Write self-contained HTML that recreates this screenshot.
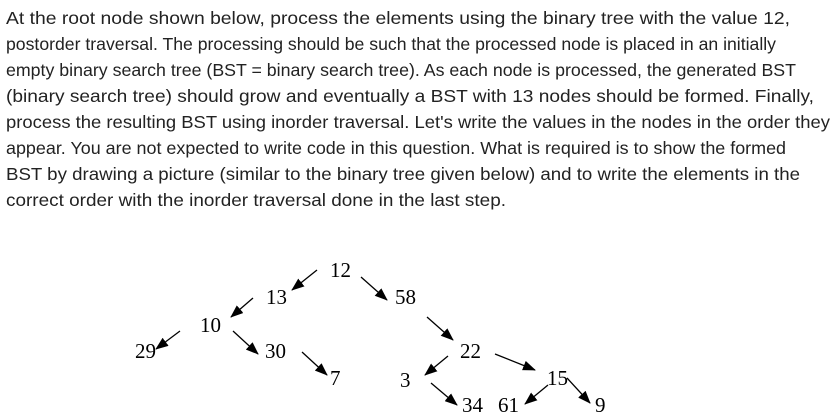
<!DOCTYPE html>
<html><head><meta charset="utf-8"><style>
html,body{margin:0;padding:0;background:#fff;}
svg{display:block;}
.p{font-family:"Liberation Sans",sans-serif;font-size:17.5px;fill:#222;}
.n{font-family:"Liberation Serif",serif;font-size:21px;fill:#000;}
</style></head><body>
<svg width="838" height="417" viewBox="0 0 838 417" xmlns="http://www.w3.org/2000/svg">
<defs><marker id="a" markerWidth="13" markerHeight="10" refX="12" refY="5" orient="auto" markerUnits="userSpaceOnUse"><path d="M0,0 L13,5 L0,10 z" fill="#000"/></marker></defs>
<text class="p" x="6" y="24" textLength="784" lengthAdjust="spacingAndGlyphs">At the root node shown below, process the elements using the binary tree with the value 12,</text>
<text class="p" x="6" y="50" textLength="770" lengthAdjust="spacingAndGlyphs">postorder traversal. The processing should be such that the processed node is placed in an initially</text>
<text class="p" x="6" y="76" textLength="790" lengthAdjust="spacingAndGlyphs">empty binary search tree (BST = binary search tree). As each node is processed, the generated BST</text>
<text class="p" x="6" y="102" textLength="808" lengthAdjust="spacingAndGlyphs">(binary search tree) should grow and eventually a BST with 13 nodes should be formed. Finally,</text>
<text class="p" x="6" y="128" textLength="824" lengthAdjust="spacingAndGlyphs">process the resulting BST using inorder traversal. Let's write the values in the nodes in the order they</text>
<text class="p" x="6" y="154" textLength="780" lengthAdjust="spacingAndGlyphs">appear. You are not expected to write code in this question. What is required is to show the formed</text>
<text class="p" x="6" y="180" textLength="794" lengthAdjust="spacingAndGlyphs">BST by drawing a picture (similar to the binary tree given below) and to write the elements in the</text>
<text class="p" x="6" y="206" textLength="500" lengthAdjust="spacingAndGlyphs">correct order with the inorder traversal done in the last step.</text>
<g stroke="#000" stroke-width="1.3" marker-end="url(#a)">
<line x1="317" y1="270" x2="292" y2="290"/>
<line x1="361" y1="277" x2="387" y2="300"/>
<line x1="253" y1="298" x2="231" y2="317"/>
<line x1="180" y1="331" x2="156" y2="349"/>
<line x1="233" y1="331" x2="258" y2="354"/>
<line x1="302" y1="352" x2="327" y2="375"/>
<line x1="427" y1="317" x2="453" y2="340"/>
<line x1="448" y1="356" x2="425" y2="375"/>
<line x1="495" y1="354" x2="535" y2="370"/>
<line x1="431" y1="383" x2="457" y2="405"/>
<line x1="548" y1="385" x2="525" y2="404"/>
<line x1="567" y1="378" x2="590" y2="403"/>
</g>
<g class="n">
<text x="330" y="277">12</text>
<text x="266" y="304">13</text>
<text x="395" y="304">58</text>
<text x="200" y="332">10</text>
<text x="135" y="358">29</text>
<text x="265" y="358">30</text>
<text x="330" y="385">7</text>
<text x="460" y="358">22</text>
<text x="400" y="387">3</text>
<text x="547" y="385">15</text>
<text x="462" y="412">34</text>
<text x="498" y="412">61</text>
<text x="595" y="412">9</text>
</g>
</svg>
</body></html>
